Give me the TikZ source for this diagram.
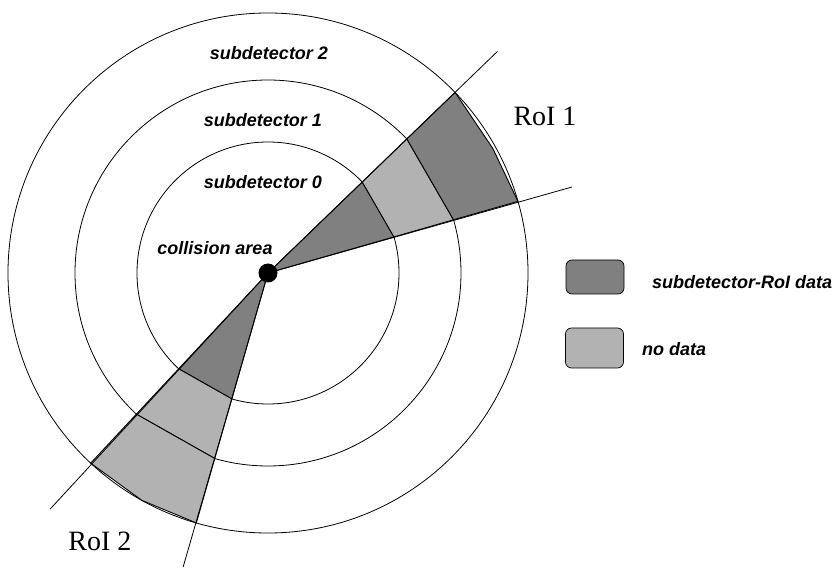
\documentclass[tikz,border=0pt]{standalone}
\usepackage{fontspec}
\setmainfont{Liberation Serif}
\newfontfamily\helv{Liberation Sans}
\usepackage{tikz}

\definecolor{roidark}{gray}{0.5}
\definecolor{roilight}{gray}{0.7}

\tikzset{
  layer/.style={line width=0.8pt},
  darkcell/.style={fill=roidark, draw=black, line width=0.9pt, line join=round},
  lightcell/.style={fill=roilight, draw=black, line width=0.9pt, line join=round},
  ray/.style={line width=0.8pt},
  det/.style={font=\helv\bfseries\itshape\fontsize{18}{20}\selectfont, inner sep=0pt},
  roi/.style={font=\fontsize{28}{30}\selectfont, inner sep=0pt},
  key/.style={draw=black, line width=0.7pt, rounded corners=6pt, inner sep=0pt,
              minimum width=58pt},
}

\begin{document}
\begin{tikzpicture}[x=1pt,y=1pt]
\useasboundingbox (-268,-305) rectangle (570,273);

%% detector layers
\foreach \r in {131,193,260}
  \draw [layer] (0,0) circle (\r);

%% RoI 1
\draw [darkcell]  (0,0) -- (44:131) -- (16:131) -- cycle;
\draw [lightcell] (44:131) -- (44:193) -- (16:193) -- (16:131) -- cycle;
\draw [darkcell]  (44:193) -- (44:260) -- (29:257) -- (16:260) -- (16:193) -- cycle;
%% RoI 2
\draw [darkcell]  (0,0) -- (227:131) -- (254:131) -- cycle;
\draw [lightcell] (227:131) -- (227:193) -- (254:193) -- (254:131) -- cycle;
\draw [lightcell] (227:193) -- (227:260) -- (241:260) -- (254:260) -- (254:193) -- cycle;

%% interaction point and RoI borders
\node [circle, fill=black, inner sep=0pt, minimum size=19pt] (ip) at (0,0) {};
\coordinate (r1a) at (44:319);
\coordinate (r1b) at (15.8:316);
\coordinate (r2a) at (227.3:321);
\coordinate (r2b) at (253.9:306);
\draw [ray] (ip.center) -- (r1a);
\draw [ray] (ip.center) -- (r1b);
\draw [ray] (ip.center) -- (r2a);
\draw [ray] (ip.center) -- (r2b);

\node [det] (sd2) at (1,220) {subdetector 2};
\node [det] (sd1) at (-5,153) {subdetector 1};
\node [det] (sd0) at (-5,91) {subdetector 0};
\node [det] (coll) at (-53,25) {collision area};
\node [roi] (roi1) at (277,157) {RoI 1};
\node [roi] (roi2) at (-168,-268) {RoI 2};

%% legend
\node [key, fill=roidark, minimum height=34pt] (keydark) at (327,-4) {};
\node [key, fill=roilight, minimum height=40pt] (keylight) at (326.5,-75) {};
\node [det, anchor=west] (txtdark) at (384,-9) {subdetector-RoI data};
\node [det, anchor=west] (txtlight) at (374,-76) {no data};
\end{tikzpicture}
\end{document}
